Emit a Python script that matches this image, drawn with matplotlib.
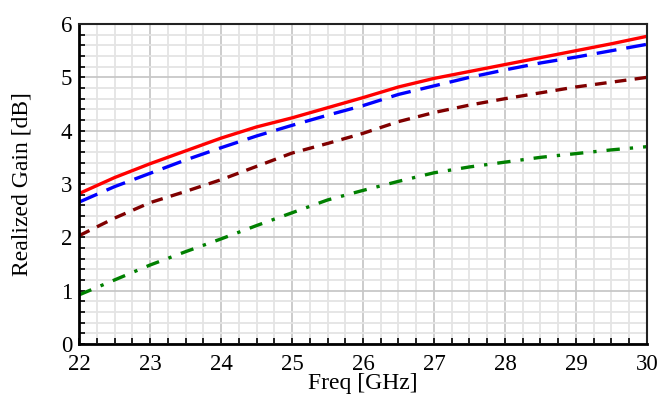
import numpy as np
import matplotlib.pyplot as plt
from matplotlib.ticker import MultipleLocator

# values, freq in GHz
freq = [22, 22.5, 23, 23.5, 24, 24.5, 25, 25.5, 26, 26.5, 27, 27.5, 28, 28.5, 29, 29.5, 30]
gain_red = [2.82, 3.12, 3.38, 3.62, 3.86, 4.07, 4.24, 4.43, 4.62, 4.82, 4.98, 5.11, 5.24, 5.37, 5.50, 5.63, 5.77]
gain_blue = [2.66, 2.95, 3.20, 3.45, 3.68, 3.90, 4.10, 4.29, 4.47, 4.68, 4.84, 5.00, 5.14, 5.27, 5.38, 5.50, 5.62]
gain_dkred = [2.03, 2.36, 2.65, 2.86, 3.08, 3.33, 3.58, 3.76, 3.95, 4.17, 4.34, 4.48, 4.60, 4.71, 4.82, 4.91, 5.00]
gain_green = [0.92, 1.20, 1.48, 1.73, 1.97, 2.22, 2.46, 2.70, 2.88, 3.05, 3.21, 3.32, 3.41, 3.50, 3.57, 3.64, 3.70]

plt.rcParams['font.family'] = ['Liberation Serif', 'DejaVu Serif']

fig = plt.figure(figsize=(6.6, 3.94), dpi=100)
ax = fig.add_axes([0.1197, 0.127, 0.8606, 0.812])

ax.plot(freq, gain_red, color='#ff0000', lw=2.4, ls='-')
ax.plot(freq, gain_blue, color='#0000ff', lw=2.4, dashes=(6, 3))
ax.plot(freq, gain_dkred, color='#800000', lw=2.4, dashes=(3.5, 2.5))
ax.plot(freq, gain_green, color='#008000', lw=2.4, dashes=(4, 3, 1, 3))

ax.set_xlim(22, 30)
ax.set_ylim(0, 6)
ax.xaxis.set_major_locator(MultipleLocator(1))
ax.xaxis.set_minor_locator(MultipleLocator(0.25))
ax.yaxis.set_major_locator(MultipleLocator(1))
ax.yaxis.set_minor_locator(MultipleLocator(0.2))

ax.grid(which='major', color='#c8c8c8', lw=1.3)
ax.grid(which='minor', color='#e4e4e4', lw=1.3)
ax.set_axisbelow(True)

ax.tick_params(which='both', direction='in', length=4, width=1.2, labelsize=16.5,
               top=False, right=False)
ax.tick_params(axis='x', pad=7)
ax.tick_params(axis='y', pad=5)

for s in ['left', 'bottom']:
    ax.spines[s].set_linewidth(2)
    ax.spines[s].set_color('black')
for s in ['top', 'right']:
    ax.spines[s].set_linewidth(1.5)
    ax.spines[s].set_color('#222222')

ax.set_ylabel('Realized Gain [dB]', fontsize=17)
ax.yaxis.set_label_coords(-0.082, 0.5)
ax.set_xlabel('Freq [GHz]', fontsize=17)
ax.xaxis.set_label_coords(0.5, -0.09)

fig.savefig('out.png', dpi=100)
